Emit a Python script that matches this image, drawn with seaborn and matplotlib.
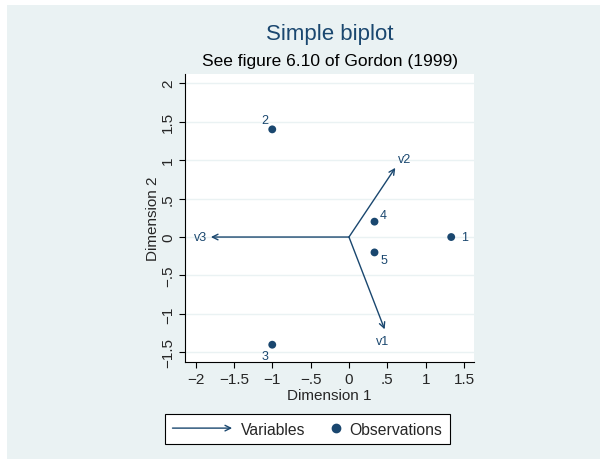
import matplotlib
matplotlib.use("Agg")
import matplotlib.pyplot as plt
import seaborn as sns
import pandas as pd
from matplotlib.patches import FancyArrowPatch, Rectangle
from matplotlib.legend_handler import HandlerPatch, HandlerBase
from matplotlib.lines import Line2D
from matplotlib.ticker import FuncFormatter

# observations (rows)
obs_labels = ["1", "2", "3", "4", "5"]
obs_x = [1.333, -1.0, -1.0, 0.333, 0.333]
obs_y = [0.0, 1.4, -1.4, 0.2, -0.2]

# variables (arrows)
var_labels = ["v1", "v2", "v3"]
var_x = [0.465, 0.604, -1.80]
var_y = [-1.20, 0.90, 0.0]

x_ticks = [-2, -1.5, -1, -0.5, 0, 0.5, 1, 1.5]
y_ticks = [-1.5, -1, -0.5, 0, 0.5, 1, 1.5, 2]

navy = "#1a476f"
bg = "#eaf2f3"

sns.set_style("ticks")
plt.rcParams["font.family"] = ["Liberation Sans", "DejaVu Sans"]


def stata_fmt(v, pos):
    if abs(v) < 1e-9:
        return "0"
    s = ("%g" % abs(v))
    if s.startswith("0."):
        s = s[1:]
    return ("\u2212" + s) if v < 0 else s


class HandlerArrow(HandlerPatch):
    def create_artists(self, legend, orig_handle, xdescent, ydescent,
                       width, height, fontsize, trans):
        y = height / 2 - ydescent
        p = FancyArrowPatch((-xdescent, y), (width - xdescent, y),
                            arrowstyle="->", mutation_scale=10,
                            color=navy, lw=1, shrinkA=0, shrinkB=0)
        p.set_transform(trans)
        return [p]


class HandlerDotRight(HandlerBase):
    # marker sits at the right end of the handle box, like Stata's key
    def create_artists(self, legend, orig_handle, xdescent, ydescent,
                       width, height, fontsize, trans):
        y = height / 2 - ydescent
        m = Line2D([width - xdescent - 3], [y], marker="o", ls="none",
                   color=navy, markersize=6)
        m.set_transform(trans)
        return [m]


fig = plt.figure(figsize=(6, 4.6), dpi=100, facecolor="white")
fig.patches.append(Rectangle((0.011, 0), 0.989, 0.986, transform=fig.transFigure,
                             facecolor=bg, edgecolor="none", zorder=-10))

ax = fig.add_axes([0.308, 0.210, 0.482, 0.627])
ax.set_facecolor("white")

df = pd.DataFrame({"x": obs_x, "y": obs_y, "label": obs_labels})
sns.scatterplot(data=df, x="x", y="y", ax=ax, color=navy, s=32,
                edgecolor="none", zorder=3)

obs_offsets = {"1": (7, 0, "left", "center"),
               "2": (-5.5, 7, "center", "center"),
               "3": (-5.5, -8, "center", "center"),
               "4": (6.5, 5, "center", "center"),
               "5": (6.5, -5.5, "center", "center")}
for lab, xv, yv in zip(obs_labels, obs_x, obs_y):
    dx, dy, ha, va = obs_offsets[lab]
    ax.annotate(lab, (xv, yv), xytext=(dx, dy), textcoords="offset points",
                ha=ha, va=va, color=navy, fontsize=9)

var_offsets = {"v1": (-1.5, -8.5, "center", "center"),
               "v2": (7, 6.5, "center", "center"),
               "v3": (-3, 0, "right", "center")}
for lab, xv, yv in zip(var_labels, var_x, var_y):
    arr = FancyArrowPatch((0, 0), (xv, yv), arrowstyle="->", mutation_scale=10,
                          color=navy, lw=1, shrinkA=0, shrinkB=0, zorder=2)
    ax.add_patch(arr)
    dx, dy, ha, va = var_offsets[lab]
    ax.annotate(lab, (xv, yv), xytext=(dx, dy), textcoords="offset points",
                ha=ha, va=va, color=navy, fontsize=9)

ax.set_xlim(-2.14, 1.63)
ax.set_ylim(-1.63, 2.12)
ax.set_xticks(x_ticks)
ax.set_yticks(y_ticks)
ax.xaxis.set_major_formatter(FuncFormatter(stata_fmt))
ax.yaxis.set_major_formatter(FuncFormatter(stata_fmt))
ax.tick_params(axis="both", length=4, width=0.8, labelsize=11, pad=3, color="black")
for t in ax.get_yticklabels():
    t.set_rotation(90)
    t.set_va("center")
ax.grid(axis="y", color=bg, lw=1)
ax.set_axisbelow(True)
for side in ["top", "right"]:
    ax.spines[side].set_visible(False)
for side in ["left", "bottom"]:
    ax.spines[side].set_color("black")
    ax.spines[side].set_linewidth(0.8)

ax.set_xlabel("Dimension 1", fontsize=11, labelpad=1)
ax.set_ylabel("Dimension 2", fontsize=11, labelpad=1)

fig.text(0.55, 0.924, "Simple biplot", ha="center", va="center",
         fontsize=16, color=navy)
fig.text(0.55, 0.866, "See figure 6.10 of Gordon (1999)", ha="center",
         va="center", fontsize=12.5, color="black")

arrow_handle = FancyArrowPatch((0, 0), (1, 0))
dot_handle = Line2D([], [], marker="o", ls="none", color=navy, markersize=6)
leg = fig.legend([arrow_handle, dot_handle], ["Variables", "Observations"],
                 loc="center", bbox_to_anchor=(0.512, 0.065), ncol=2,
                 handler_map={FancyArrowPatch: HandlerArrow(),
                              Line2D: HandlerDotRight()},
                 handlelength=3.8, fontsize=11.3, frameon=True, fancybox=False,
                 edgecolor="black", facecolor="white", framealpha=1,
                 borderpad=0.5, columnspacing=-1.6, handletextpad=0.57)
leg.get_frame().set_linewidth(0.8)

fig.savefig("out.png", dpi=100, facecolor=fig.get_facecolor())
